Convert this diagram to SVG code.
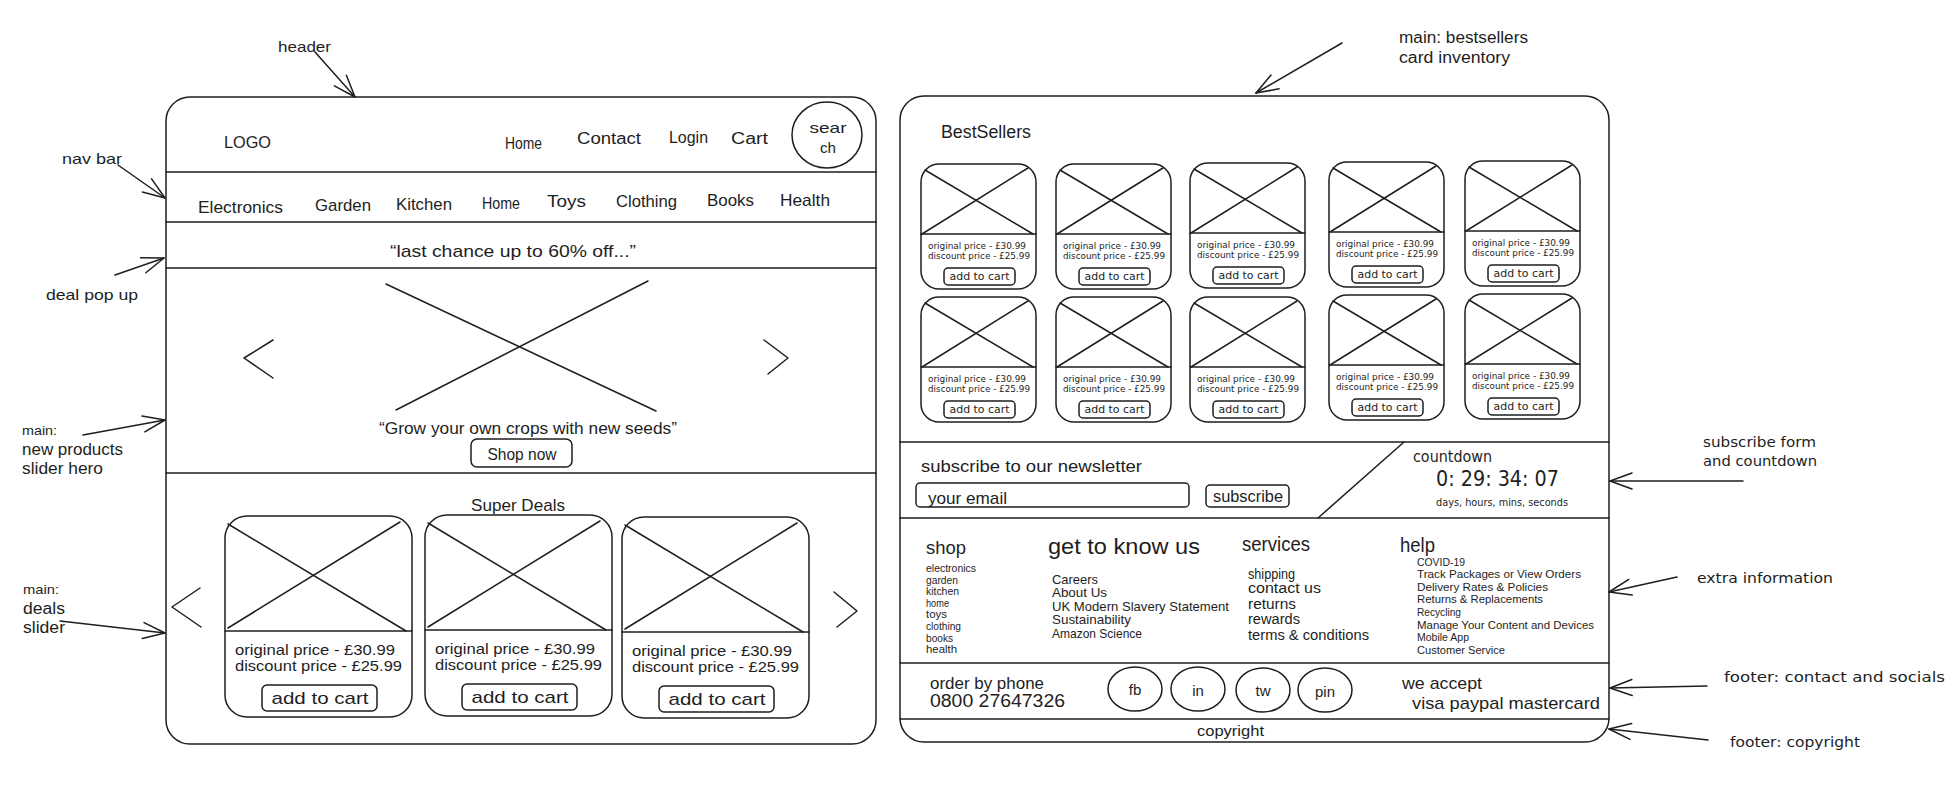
<svg xmlns="http://www.w3.org/2000/svg" xmlns:xlink="http://www.w3.org/1999/xlink" width="1953" height="788" viewBox="0 0 1953 788">
<style>
.s{fill:none;stroke:#1e1e1e;stroke-width:1.5;stroke-linecap:round;stroke-linejoin:round}
.w{fill:#ffffff;stroke:#1e1e1e;stroke-width:1.5}
text{font-family:"Liberation Sans",Arial,sans-serif;fill:#1e1e1e;dominant-baseline:central}
.a{font-family:"DejaVu Sans","Liberation Sans",sans-serif}
.c{text-anchor:middle}
</style>
<defs>
<marker id="arr" viewBox="0 0 24 18" markerWidth="24" markerHeight="18" refX="23" refY="9" orient="auto" markerUnits="userSpaceOnUse" overflow="visible">
<path d="M1,1 L23,9 L1,17" fill="none" stroke="#1e1e1e" stroke-width="1.5" stroke-linecap="round" stroke-linejoin="round"/>
</marker>
<g id="dealCard">
<rect class="s" x="0" y="0" width="187" height="201" rx="22"/>
<line class="s" x1="0" y1="115" x2="187" y2="115"/>
<line class="s" x1="3" y1="8" x2="181" y2="115"/>
<line class="s" x1="175" y1="6" x2="3" y2="112"/>
<text x="10" y="133" font-size="15" textLength="160" lengthAdjust="spacingAndGlyphs">original price - £30.99</text>
<text x="10" y="149" font-size="15" textLength="167" lengthAdjust="spacingAndGlyphs">discount price - £25.99</text>
<rect class="s" x="37" y="169" width="115" height="26" rx="5"/>
<text class="c" x="95" y="182" font-size="17" textLength="97" lengthAdjust="spacingAndGlyphs">add to cart</text>
</g>
<g id="bestCard">
<rect class="s" x="0" y="0" width="115" height="125" rx="18"/>
<line class="s" x1="0" y1="70" x2="115" y2="70"/>
<line class="s" x1="4" y1="6" x2="112" y2="70"/>
<line class="s" x1="107" y1="4" x2="1" y2="70"/>
<text class="a" x="7" y="82" font-size="9" textLength="98" lengthAdjust="spacingAndGlyphs">original price - £30.99</text>
<text class="a" x="7" y="92" font-size="9" textLength="102" lengthAdjust="spacingAndGlyphs">discount price - £25.99</text>
<rect class="s" x="23" y="104" width="71" height="17" rx="4"/>
<text class="a c" x="58.5" y="112.5" font-size="11" textLength="60" lengthAdjust="spacingAndGlyphs">add to cart</text>
</g>
</defs>
<rect x="0" y="0" width="1953" height="788" fill="#ffffff"/>

<!-- LEFT PAGE -->
<g id="left-page">
<rect class="s" x="166" y="97" width="710" height="647" rx="24"/>
<line class="s" x1="166" y1="172" x2="876" y2="172"/>
<line class="s" x1="166" y1="222" x2="876" y2="222"/>
<line class="s" x1="166" y1="268" x2="876" y2="268"/>
<line class="s" x1="166" y1="473" x2="876" y2="473"/>
</g>

<g id="header">
<text x="224" y="142" font-size="16" textLength="47" lengthAdjust="spacingAndGlyphs">LOGO</text>
<text x="505" y="143" font-size="16" textLength="37" lengthAdjust="spacingAndGlyphs">Home</text>
<text x="577" y="138" font-size="16" textLength="64" lengthAdjust="spacingAndGlyphs">Contact</text>
<text x="669" y="137" font-size="16" textLength="39" lengthAdjust="spacingAndGlyphs">Login</text>
<text x="731" y="138" font-size="16" textLength="37" lengthAdjust="spacingAndGlyphs">Cart</text>
</g>
<g id="search">
<ellipse class="s" cx="827" cy="135" rx="35" ry="33"/>
<text class="c" x="828" y="127" font-size="15" textLength="37" lengthAdjust="spacingAndGlyphs">sear</text>
<text class="c" x="828" y="147" font-size="15" textLength="16" lengthAdjust="spacingAndGlyphs">ch</text>
</g>

<g id="nav">
<text x="198" y="207" font-size="17" textLength="85" lengthAdjust="spacingAndGlyphs">Electronics</text>
<text x="315" y="205" font-size="17" textLength="56" lengthAdjust="spacingAndGlyphs">Garden</text>
<text x="396" y="204" font-size="17" textLength="56" lengthAdjust="spacingAndGlyphs">Kitchen</text>
<text x="482" y="203" font-size="17" textLength="38" lengthAdjust="spacingAndGlyphs">Home</text>
<text x="547" y="201" font-size="17" textLength="39" lengthAdjust="spacingAndGlyphs">Toys</text>
<text x="616" y="201" font-size="17" textLength="61" lengthAdjust="spacingAndGlyphs">Clothing</text>
<text x="707" y="200" font-size="17" textLength="47" lengthAdjust="spacingAndGlyphs">Books</text>
<text x="780" y="200" font-size="17" textLength="50" lengthAdjust="spacingAndGlyphs">Health</text>
</g>

<g id="deal-popup">
<text x="390" y="251" font-size="17" textLength="246" lengthAdjust="spacingAndGlyphs">“last chance up to 60% off...”</text>
</g>

<g id="hero">
<line class="s" x1="386" y1="284" x2="656" y2="411"/>
<line class="s" x1="648" y1="281" x2="396" y2="410"/>
<polyline class="s" points="273,340 244,358 273,378"/>
<polyline class="s" points="764,340 788,358 768,374"/>
<text x="379" y="428" font-size="17" textLength="298" lengthAdjust="spacingAndGlyphs">“Grow your own crops with new seeds”</text>
<rect class="s" x="471" y="439" width="101" height="28" rx="6"/>
<text class="c" x="522" y="454" font-size="17" textLength="69" lengthAdjust="spacingAndGlyphs">Shop now</text>
</g>

<g id="super-deals">
<text x="471" y="505" font-size="17" textLength="94" lengthAdjust="spacingAndGlyphs">Super Deals</text>
<polyline class="s" points="200,588 172,607 201,627"/>
<polyline class="s" points="834,592 857,611 837,627"/>
</g>
<g id="deal-card-1"><use href="#dealCard" xlink:href="#dealCard" x="225" y="516"/></g>
<g id="deal-card-2"><use href="#dealCard" xlink:href="#dealCard" x="425" y="515"/></g>
<g id="deal-card-3"><use href="#dealCard" xlink:href="#dealCard" x="622" y="517"/></g>

<!-- LEFT ANNOTATIONS -->
<g id="label-header"><text x="278" y="46" font-size="15" textLength="53" lengthAdjust="spacingAndGlyphs">header</text></g>
<g id="label-navbar"><text x="62" y="158" font-size="15" textLength="60" lengthAdjust="spacingAndGlyphs">nav bar</text></g>
<g id="label-deal"><text x="46" y="294" font-size="15" textLength="92" lengthAdjust="spacingAndGlyphs">deal pop up</text></g>
<g id="label-hero">
<text x="22" y="430" font-size="13" textLength="35" lengthAdjust="spacingAndGlyphs">main:</text>
<text x="22" y="449" font-size="16" textLength="101" lengthAdjust="spacingAndGlyphs">new products</text>
<text x="22" y="468" font-size="16" textLength="81" lengthAdjust="spacingAndGlyphs">slider hero</text>
</g>
<g id="label-deals">
<text x="23" y="589" font-size="13" textLength="36" lengthAdjust="spacingAndGlyphs">main:</text>
<text x="23" y="608" font-size="16" textLength="42" lengthAdjust="spacingAndGlyphs">deals</text>
<text x="23" y="627" font-size="16" textLength="42" lengthAdjust="spacingAndGlyphs">slider</text>
</g>

<!-- RIGHT PAGE -->
<g id="right-page">
<rect class="s" x="900" y="96" width="709" height="646" rx="24"/>
<line class="s" x1="900" y1="442" x2="1609" y2="442"/>
<line class="s" x1="900" y1="518" x2="1609" y2="518"/>
<line class="s" x1="900" y1="663" x2="1609" y2="663"/>
<line class="s" x1="900" y1="719" x2="1609" y2="719"/>
</g>

<g id="bestsellers">
<text x="941" y="132" font-size="18" textLength="90" lengthAdjust="spacingAndGlyphs">BestSellers</text>
</g>
<g id="best-card-1"><use href="#bestCard" xlink:href="#bestCard" x="921" y="164"/></g>
<g id="best-card-2"><use href="#bestCard" xlink:href="#bestCard" x="1056" y="164"/></g>
<g id="best-card-3"><use href="#bestCard" xlink:href="#bestCard" x="1190" y="163"/></g>
<g id="best-card-4"><use href="#bestCard" xlink:href="#bestCard" x="1329" y="162"/></g>
<g id="best-card-5"><use href="#bestCard" xlink:href="#bestCard" x="1465" y="161"/></g>
<g id="best-card-6"><use href="#bestCard" xlink:href="#bestCard" x="921" y="297"/></g>
<g id="best-card-7"><use href="#bestCard" xlink:href="#bestCard" x="1056" y="297"/></g>
<g id="best-card-8"><use href="#bestCard" xlink:href="#bestCard" x="1190" y="297"/></g>
<g id="best-card-9"><use href="#bestCard" xlink:href="#bestCard" x="1329" y="295"/></g>
<g id="best-card-10"><use href="#bestCard" xlink:href="#bestCard" x="1465" y="294"/></g>

<g id="newsletter">
<text x="921" y="466" font-size="17" textLength="221" lengthAdjust="spacingAndGlyphs">subscribe to our newsletter</text>
<rect class="s" x="916" y="483" width="273" height="24" rx="4"/>
<text x="928" y="498" font-size="17" textLength="79" lengthAdjust="spacingAndGlyphs">your email</text>
<rect class="s" x="1206" y="485" width="83" height="22" rx="4"/>
<text class="c" x="1248" y="496" font-size="17" textLength="70" lengthAdjust="spacingAndGlyphs">subscribe</text>
</g>
<g id="countdown">
<line class="s" x1="1404" y1="442" x2="1318" y2="518"/>
<text class="a" x="1413" y="457" font-size="15" textLength="79" lengthAdjust="spacingAndGlyphs">countdown</text>
<text class="a" x="1436" y="479" font-size="21" textLength="123" lengthAdjust="spacingAndGlyphs">0: 29: 34: 07</text>
<text class="a" x="1436" y="502" font-size="10" textLength="132" lengthAdjust="spacingAndGlyphs">days, hours, mins, seconds</text>
</g>

<g id="footer-shop">
<text x="926" y="548" font-size="18" textLength="40" lengthAdjust="spacingAndGlyphs">shop</text>
<text x="926" y="568" font-size="10" textLength="50" lengthAdjust="spacingAndGlyphs">electronics</text>
<text x="926" y="580" font-size="10" textLength="32" lengthAdjust="spacingAndGlyphs">garden</text>
<text x="926" y="591" font-size="10" textLength="33" lengthAdjust="spacingAndGlyphs">kitchen</text>
<text x="926" y="603" font-size="10" textLength="23" lengthAdjust="spacingAndGlyphs">home</text>
<text x="926" y="614" font-size="10" textLength="21" lengthAdjust="spacingAndGlyphs">toys</text>
<text x="926" y="626" font-size="10" textLength="35" lengthAdjust="spacingAndGlyphs">clothing</text>
<text x="926" y="638" font-size="10" textLength="27" lengthAdjust="spacingAndGlyphs">books</text>
<text x="926" y="649" font-size="10" textLength="31" lengthAdjust="spacingAndGlyphs">health</text>
</g>
<g id="footer-know">
<text x="1048" y="546" font-size="22" textLength="152" lengthAdjust="spacingAndGlyphs">get to know us</text>
<text x="1052" y="579" font-size="13" textLength="46" lengthAdjust="spacingAndGlyphs">Careers</text>
<text x="1052" y="592" font-size="13" textLength="55" lengthAdjust="spacingAndGlyphs">About Us</text>
<text x="1052" y="606" font-size="13" textLength="177" lengthAdjust="spacingAndGlyphs">UK Modern Slavery Statement</text>
<text x="1052" y="619" font-size="13" textLength="79" lengthAdjust="spacingAndGlyphs">Sustainability</text>
<text x="1052" y="633" font-size="13" textLength="90" lengthAdjust="spacingAndGlyphs">Amazon Science</text>
</g>
<g id="footer-services">
<text x="1242" y="544" font-size="20" textLength="68" lengthAdjust="spacingAndGlyphs">services</text>
<text x="1248" y="574" font-size="14" textLength="47" lengthAdjust="spacingAndGlyphs">shipping</text>
<text x="1248" y="588" font-size="14" textLength="73" lengthAdjust="spacingAndGlyphs">contact us</text>
<text x="1248" y="604" font-size="14" textLength="48" lengthAdjust="spacingAndGlyphs">returns</text>
<text x="1248" y="619" font-size="14" textLength="52" lengthAdjust="spacingAndGlyphs">rewards</text>
<text x="1248" y="635" font-size="14" textLength="121" lengthAdjust="spacingAndGlyphs">terms &amp; conditions</text>
</g>
<g id="footer-help">
<text x="1400" y="545" font-size="20" textLength="35" lengthAdjust="spacingAndGlyphs">help</text>
<text x="1417" y="562" font-size="11" textLength="48" lengthAdjust="spacingAndGlyphs">COVID-19</text>
<text x="1417" y="574" font-size="11" textLength="164" lengthAdjust="spacingAndGlyphs">Track Packages or View Orders</text>
<text x="1417" y="587" font-size="11" textLength="131" lengthAdjust="spacingAndGlyphs">Delivery Rates &amp; Policies</text>
<text x="1417" y="599" font-size="11" textLength="126" lengthAdjust="spacingAndGlyphs">Returns &amp; Replacements</text>
<text x="1417" y="612" font-size="11" textLength="44" lengthAdjust="spacingAndGlyphs">Recycling</text>
<text x="1417" y="625" font-size="11" textLength="177" lengthAdjust="spacingAndGlyphs">Manage Your Content and Devices</text>
<text x="1417" y="637" font-size="11" textLength="52" lengthAdjust="spacingAndGlyphs">Mobile App</text>
<text x="1417" y="650" font-size="11" textLength="88" lengthAdjust="spacingAndGlyphs">Customer Service</text>
</g>

<g id="footer-contact">
<text x="930" y="683" font-size="16" textLength="114" lengthAdjust="spacingAndGlyphs">order by phone</text>
<text x="930" y="701" font-size="18" textLength="135" lengthAdjust="spacingAndGlyphs">0800 27647326</text>
</g>
<g id="social-fb"><ellipse class="s" cx="1135" cy="689" rx="27" ry="22"/><text class="c" x="1135" y="689" font-size="15">fb</text></g>
<g id="social-in"><ellipse class="s" cx="1198" cy="689" rx="27" ry="22"/><text class="c" x="1198" y="690" font-size="15">in</text></g>
<g id="social-tw"><ellipse class="s" cx="1263" cy="690" rx="27" ry="22"/><text class="c" x="1263" y="690" font-size="15">tw</text></g>
<g id="social-pin"><ellipse class="s" cx="1325" cy="690" rx="27" ry="22"/><text class="c" x="1325" y="691" font-size="15">pin</text></g>
<g id="payments">
<text x="1402" y="683" font-size="17" textLength="80" lengthAdjust="spacingAndGlyphs">we accept</text>
<text x="1412" y="703" font-size="17" textLength="188" lengthAdjust="spacingAndGlyphs">visa paypal mastercard</text>
</g>
<g id="copyright"><text x="1197" y="730" font-size="15" textLength="67" lengthAdjust="spacingAndGlyphs">copyright</text></g>

<!-- RIGHT ANNOTATIONS -->
<g id="label-bestsellers">
<text x="1399" y="37" font-size="16" textLength="129" lengthAdjust="spacingAndGlyphs">main: bestsellers</text>
<text x="1399" y="57" font-size="16" textLength="111" lengthAdjust="spacingAndGlyphs">card inventory</text>
</g>
<g id="label-subscribe">
<text class="a" x="1703" y="442" font-size="14" textLength="113" lengthAdjust="spacingAndGlyphs">subscribe form</text>
<text class="a" x="1703" y="461" font-size="14" textLength="114" lengthAdjust="spacingAndGlyphs">and countdown</text>
</g>
<g id="label-extra"><text class="a" x="1697" y="578" font-size="14" textLength="136" lengthAdjust="spacingAndGlyphs">extra information</text></g>
<g id="label-contact"><text class="a" x="1724" y="677" font-size="14" textLength="221" lengthAdjust="spacingAndGlyphs">footer: contact and socials</text></g>
<g id="label-copyright"><text class="a" x="1730" y="742" font-size="14" textLength="130" lengthAdjust="spacingAndGlyphs">footer: copyright</text></g>

<!-- CONNECTORS -->
<g id="connectors" class="s" marker-end="url(#arr)">
<line x1="315" y1="52" x2="355" y2="97" marker-end="url(#arr)"/>
<line x1="118" y1="165" x2="165" y2="198" marker-end="url(#arr)"/>
<line x1="115" y1="275" x2="164" y2="258" marker-end="url(#arr)"/>
<line x1="83" y1="435" x2="165" y2="420" marker-end="url(#arr)"/>
<line x1="60" y1="621" x2="165" y2="633" marker-end="url(#arr)"/>
<line x1="1342" y1="43" x2="1256" y2="93" marker-end="url(#arr)"/>
<line x1="1743" y1="481" x2="1610" y2="481" marker-end="url(#arr)"/>
<line x1="1677" y1="577" x2="1609" y2="592" marker-end="url(#arr)"/>
<line x1="1707" y1="686" x2="1610" y2="688" marker-end="url(#arr)"/>
<line x1="1708" y1="740" x2="1609" y2="729" marker-end="url(#arr)"/>
</g>
</svg>
